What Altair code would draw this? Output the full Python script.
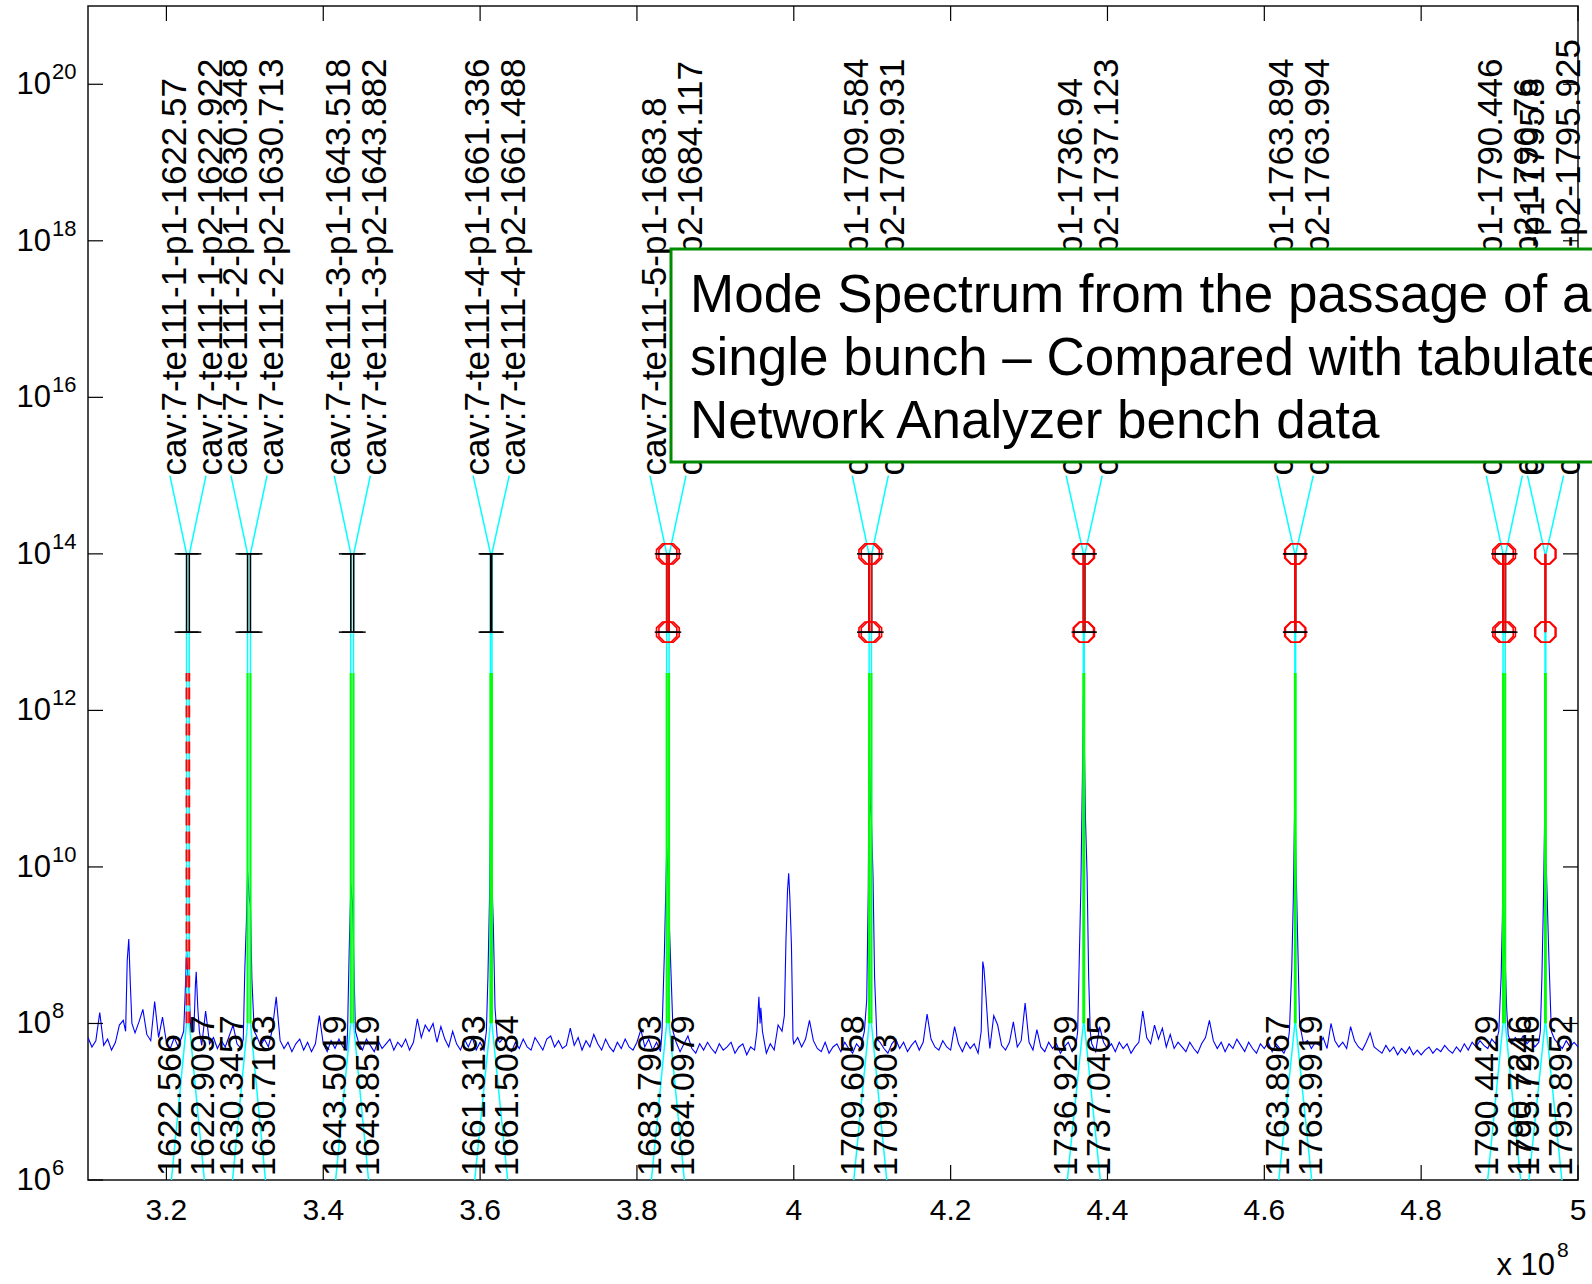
import altair as alt
import pandas as pd

FONT = "Liberation Sans"
W, H = 1490, 1174

# The spectrum is plotted against (f - 1.3 GHz), in Hz.
F_SHIFT_MHZ = 1300.0

# Tabulated network-analyser modes (upper labels)
tab_labels = [
    "cav:7-te111-1-p1-1622.57", "cav:7-te111-1-p2-1622.922",
    "cav:7-te111-2-p1-1630.348", "cav:7-te111-2-p2-1630.713",
    "cav:7-te111-3-p1-1643.518", "cav:7-te111-3-p2-1643.882",
    "cav:7-te111-4-p1-1661.336", "cav:7-te111-4-p2-1661.488",
    "cav:7-te111-5-p1-1683.8", "cav:7-te111-5-p2-1684.117",
    "cav:7-te111-6-p1-1709.584", "cav:7-te111-6-p2-1709.931",
    "cav:7-te111-7-p1-1736.94", "cav:7-te111-7-p2-1737.123",
    "cav:7-te111-8-p1-1763.894", "cav:7-te111-8-p2-1763.994",
    "cav:7-te111-9-p1-1790.446", "cav:7-te111-9-p2-1790.76",
    "cav:7-te111-10-p1-1795.8", "cav:7-te111-10-p2-1795.925",
]
# Mode frequencies found in the beam spectrum (lower labels), MHz
meas_labels = [
    "1622.566", "1622.9097", "1630.3457", "1630.7163", "1643.5019",
    "1643.8519", "1661.3193", "1661.5084", "1683.7903", "1684.0979",
    "1709.6058", "1709.903", "1736.9259", "1737.0405", "1763.8967",
    "1763.9919", "1790.4429", "1790.7246", "1795.7946", "1795.8952",
]
# per p1/p2 pair: peak found in the spectrum, frequency offset flagged, bench bar drawn
pair_found = [False, True, True, True, True, True, True, True, True, True]
pair_flagged = [False, False, False, False, True, True, True, True, True, True]
pair_bench = [True, True, True, True, True, True, True, True, True, False]

# Signal levels of the marker construction
LV_FLOOR, LV_BASE, LV_GREEN = 1e6, 1e8, 3e12
LV_ERR_LO, LV_ERR_HI, LV_LABEL = 1e13, 1e14, 1e15

# Beam spectrum: background floor sampled every 0.5 MHz from 310 MHz (log10 level)
floor_start, floor_step = 3.10e8, 0.005e8
floor_levels = [
    7.82, 7.70, 7.78, 8.14, 7.72, 7.80, 7.66, 7.76, 7.98, 8.04, 7.82, 8.12, 7.88, 8.02, 8.18, 7.86, 7.78, 8.28, 7.82, 8.08,
    7.76, 7.68, 7.82, 7.70, 7.84, 7.66, 7.78, 7.70, 7.80, 7.72, 8.16, 7.74, 7.82, 7.68, 7.78, 7.70, 7.84, 7.98, 7.74, 7.68,
    7.72, 7.80, 7.66, 7.84, 7.72, 7.80, 7.70, 7.92, 8.34, 7.78, 7.68, 7.76, 7.64, 7.74, 7.80, 7.66, 7.76, 7.64, 7.74, 8.10,
    7.74, 7.64, 7.78, 7.68, 7.80, 7.70, 7.66, 7.82, 7.70, 7.76, 7.66, 7.80, 7.72, 7.64, 7.78, 7.68, 7.74, 7.80, 7.66, 7.76,
    7.70, 7.80, 7.66, 7.76, 8.06, 7.82, 7.98, 7.90, 8.00, 7.76, 7.96, 7.80, 7.70, 7.90, 7.74, 7.66, 7.80, 7.70, 7.82, 7.66,
    7.76, 7.66, 7.74, 7.80, 7.66, 7.76, 7.82, 7.70, 7.64, 7.76, 7.68, 7.80, 7.70, 7.66, 7.82, 7.74, 7.66, 7.80, 7.84, 7.70,
    7.78, 7.68, 7.72, 7.94, 7.72, 7.82, 7.66, 7.78, 7.70, 7.86, 7.74, 7.66, 7.80, 7.70, 7.64, 7.76, 7.68, 7.80, 7.70, 7.66,
    7.76, 7.92, 7.70, 7.80, 7.66, 7.76, 7.64, 7.72, 7.86, 7.68, 7.76, 7.64, 7.74, 7.84, 7.68, 7.62, 7.74, 7.66, 7.76, 7.68,
    7.62, 7.74, 7.66, 7.70, 7.76, 7.62, 7.70, 7.74, 7.60, 7.70, 7.66, 7.76, 7.68, 7.62, 7.74, 7.66, 7.98, 7.70, 7.62, 7.70,
    7.74, 7.82, 7.70, 7.80, 8.04, 7.78, 7.68, 7.64, 7.76, 7.62, 7.70, 7.74, 7.64, 7.76, 7.68, 7.62, 7.74, 7.68, 7.76, 7.70,
    7.74, 7.64, 7.76, 7.68, 7.62, 7.74, 7.80, 7.68, 7.76, 7.64, 7.72, 7.78, 7.66, 7.76, 8.12, 7.80, 7.70, 7.66, 7.78, 7.70,
    7.66, 7.96, 7.74, 7.64, 7.76, 7.68, 7.74, 7.62, 7.70, 7.76, 7.68, 8.10, 7.98, 7.72, 7.66, 7.76, 8.02, 7.70, 7.78, 8.26,
    7.76, 7.66, 7.92, 7.70, 7.64, 7.76, 7.68, 7.74, 7.62, 7.70, 7.76, 7.64, 7.74, 7.68, 7.76, 7.66, 7.74, 7.64, 7.96, 7.76,
    7.68, 7.74, 7.64, 7.76, 7.68, 7.74, 7.62, 7.70, 7.76, 8.16, 7.82, 7.74, 7.98, 7.80, 7.94, 7.70, 7.86, 7.68, 7.76, 7.70,
    7.64, 7.76, 7.68, 7.62, 7.74, 7.82, 8.04, 7.78, 7.68, 7.76, 7.64, 7.74, 7.68, 7.80, 7.72, 7.64, 7.76, 7.68, 7.62, 7.74,
    7.68, 7.76, 7.64, 7.74, 7.68, 7.62, 7.74, 7.68, 7.76, 7.64, 7.74, 7.78, 7.68, 7.76, 7.72, 7.82, 7.68, 8.00, 7.78, 7.70,
    7.76, 7.68, 7.96, 7.78, 7.70, 7.66, 7.76, 7.88, 7.70, 7.66, 7.62, 7.72, 7.64, 7.70, 7.60, 7.68, 7.62, 7.70, 7.60, 7.66,
    7.60, 7.66, 7.70, 7.62, 7.68, 7.64, 7.72, 7.66, 7.62, 7.70, 7.64, 7.74, 7.66, 7.76, 7.70, 7.78, 7.72, 7.68, 7.80, 7.74,
    7.78, 7.70, 7.80, 7.74, 7.82, 7.76, 7.84, 7.74, 7.80, 7.70, 7.76, 7.82, 7.72, 7.70, 7.80, 7.74, 7.68, 7.78, 7.70, 7.76, 7.70,
]

# Resonance peaks: (frequency in units of 1e8 Hz, log10 level)
peaks = [
    [(3.148, 7.9), (3.150, 8.8), (3.152, 9.08), (3.154, 8.5), (3.156, 8.0)],
    [(3.222, 7.9), (3.224, 8.4), (3.2257, 8.95), (3.2275, 8.6), (3.2291, 8.4), (3.231, 7.9)],
    [(3.235, 7.9), (3.237, 8.5), (3.238, 8.66), (3.240, 8.2), (3.242, 7.9)],
    [(3.298, 7.8), (3.300, 8.7), (3.302, 9.3), (3.3035, 9.94), (3.3055, 9.62),
     (3.3072, 9.5), (3.309, 8.56), (3.312, 7.9)],
    [(3.431, 7.9), (3.433, 8.9), (3.4352, 9.78), (3.4375, 9.5), (3.4388, 8.88), (3.441, 7.9)],
    [(3.608, 7.9), (3.610, 8.6), (3.612, 9.6), (3.6134, 10.96), (3.6149, 9.9),
     (3.617, 9.2), (3.619, 8.2), (3.622, 7.8)],
    [(3.832, 7.9), (3.835, 8.9), (3.837, 9.8), (3.838, 10.24), (3.8395, 9.9),
     (3.8412, 9.3), (3.843, 8.77), (3.846, 7.9)],
    [(3.953, 7.9), (3.9555, 8.34), (3.957, 8.0), (3.958, 8.2), (3.960, 7.9)],
    [(3.985, 7.9), (3.988, 8.1), (3.990, 9.05), (3.992, 9.7), (3.9935, 9.92),
     (3.995, 9.6), (3.997, 9.0), (3.999, 7.8)],
    [(4.090, 7.9), (4.093, 8.3), (4.095, 9.7), (4.0961, 11.86), (4.0975, 10.8),
     (4.099, 10.6), (4.101, 9.9), (4.103, 8.6), (4.106, 7.8)],
    [(4.239, 7.9), (4.241, 8.79), (4.2425, 8.7), (4.244, 8.5), (4.246, 8.2), (4.248, 7.9)],
    [(4.362, 7.9), (4.364, 8.8), (4.366, 9.7), (4.368, 11.1), (4.3693, 12.19),
     (4.3705, 11.6), (4.372, 10.6), (4.374, 9.9), (4.376, 8.6), (4.378, 7.9)],
    [(4.632, 7.9), (4.635, 8.7), (4.637, 9.6), (4.6387, 10.8), (4.639, 11.28),
     (4.6399, 10.3), (4.642, 9.3), (4.645, 8.0)],
    [(4.899, 7.9), (4.902, 8.6), (4.9035, 9.3), (4.9044, 9.99), (4.906, 9.0),
     (4.9072, 8.8), (4.909, 8.2), (4.911, 7.85)],
    [(4.952, 7.9), (4.954, 8.6), (4.956, 9.6), (4.9579, 10.93), (4.959, 10.2),
     (4.961, 9.5), (4.963, 8.8), (4.966, 7.9)],
]

# Axis ticks
x_ticks = [3.2e8, 3.4e8, 3.6e8, 3.8e8, 4.0e8, 4.2e8, 4.4e8, 4.6e8, 4.8e8, 5.0e8]
x_tick_text = ["3.2", "3.4", "3.6", "3.8", "4", "4.2", "4.4", "4.6", "4.8", "5"]
y_exponents = [6, 8, 10, 12, 14, 16, 18, 20]

annotation_lines = [
    "Mode Spectrum from the passage of a",
    "single bunch \u2013 Compared with tabulated",
    "Network Analyzer bench data",
]

# ---------------------------------------------------------------- tables
spans = [(min(f for f, _ in c), max(f for f, _ in c)) for c in peaks]
trace_rows = []
for i, lv in enumerate(floor_levels):
    f = (floor_start + i * floor_step) / 1e8
    if any(lo - 1e-9 <= f <= hi + 1e-9 for lo, hi in spans):
        continue
    trace_rows.append((f, lv))
for c in peaks:
    trace_rows.extend(c)
trace_rows.sort()
trace = pd.DataFrame({
    "f": [r[0] * 1e8 for r in trace_rows],
    "amp": [10 ** r[1] for r in trace_rows],
})

TOP_SPREAD, BOT_SPREAD = 2.3e6, 2.1e6
rows = []
for i, (tl, ml) in enumerate(zip(tab_labels, meas_labels)):
    pair = i // 2
    side = -1 if i % 2 == 0 else 1
    tab_hz = (float(tl.rsplit("-", 1)[1]) - F_SHIFT_MHZ) * 1e6
    meas_hz = (float(ml) - F_SHIFT_MHZ) * 1e6
    rows.append(dict(pair=pair, side=side, tab_label=tl, meas_label=ml,
                     tab=tab_hz, meas=meas_hz,
                     found=pair_found[pair], flagged=pair_flagged[pair],
                     bench=pair_bench[pair]))
modes = pd.DataFrame(rows)
modes["tab_mid"] = modes.groupby("pair")["tab"].transform("mean")
modes["meas_mid"] = modes.groupby("pair")["meas"].transform("mean")
modes["top_x"] = modes["tab_mid"] + modes["side"] * TOP_SPREAD
modes["bot_x"] = modes["meas_mid"] + modes["side"] * BOT_SPREAD
for name, lv in [("lv_floor", LV_FLOOR), ("lv_base", LV_BASE), ("lv_green", LV_GREEN),
                 ("lv_lo", LV_ERR_LO), ("lv_hi", LV_ERR_HI), ("lv_label", LV_LABEL)]:
    modes[name] = lv

found = modes[modes["found"]]
missing = modes[~modes["found"]]
flagged = modes[modes["flagged"]]
bench = modes[modes["bench"]]
flag_pts = pd.concat([flagged.assign(lv=LV_ERR_LO), flagged.assign(lv=LV_ERR_HI)])
cap_pts = pd.concat([bench.assign(lv=LV_ERR_LO), bench.assign(lv=LV_ERR_HI)])

xt = pd.DataFrame({"v": x_ticks, "t": x_tick_text})
yt = pd.DataFrame({"v": [10.0 ** e for e in y_exponents], "e": [str(e) for e in y_exponents]})
one = pd.DataFrame({"k": [0]})

# ---------------------------------------------------------------- encodings
xs = alt.Scale(domain=[3.1e8, 5.0e8], nice=False, zero=False)
ys = alt.Scale(type="log", domain=[1e6, 1e21], nice=False)


def X(field):
    return alt.X(f"{field}:Q", scale=xs, axis=None)


def Y(field):
    return alt.Y(f"{field}:Q", scale=ys, axis=None)


OCTAGON = ("M -0.383 -0.924 L 0.383 -0.924 L 0.924 -0.383 L 0.924 0.383 "
           "L 0.383 0.924 L -0.383 0.924 L -0.924 0.383 L -0.924 -0.383 Z")
HBAR = "M -1 0 L 1 0"

layers = []

# spectrum trace
layers.append(alt.Chart(trace).mark_line(color="#0000ff", strokeWidth=1.1, clip=True)
              .encode(x=X("f"), y=Y("amp")))

# cyan stems from the floor marker up to the bench bar
layers.append(alt.Chart(modes).mark_rule(color="#00ffff", strokeWidth=1.5)
              .encode(x=X("meas"), y=Y("lv_base"), y2=alt.Y2("lv_hi")))
# found peaks: green; missing peak: red dashed
layers.append(alt.Chart(found).mark_rule(color="#00ff00", strokeWidth=2)
              .encode(x=X("meas"), y=Y("lv_base"), y2=alt.Y2("lv_green")))
layers.append(alt.Chart(missing).mark_rule(color="#ff0000", strokeWidth=2, strokeDash=[12, 6])
              .encode(x=X("meas"), y=Y("lv_base"), y2=alt.Y2("lv_green")))

# label leaders
layers.append(alt.Chart(modes).mark_rule(color="#00ffff", strokeWidth=1.5)
              .encode(x=X("top_x"), x2=alt.X2("tab"), y=Y("lv_label"), y2=alt.Y2("lv_hi")))
layers.append(alt.Chart(modes).mark_rule(color="#00ffff", strokeWidth=1.5)
              .encode(x=X("bot_x"), x2=alt.X2("meas"), y=Y("lv_floor"), y2=alt.Y2("lv_base")))

# bench bars (black) and flagged offsets (red)
layers.append(alt.Chart(bench).mark_rule(color="black", strokeWidth=1.5)
              .encode(x=X("tab"), y=Y("lv_lo"), y2=alt.Y2("lv_hi")))
layers.append(alt.Chart(flagged).mark_rule(color="#ff0000", strokeWidth=1.8)
              .encode(x=X("meas"), y=Y("lv_lo"), y2=alt.Y2("lv_hi")))
layers.append(alt.Chart(flag_pts).mark_point(shape=OCTAGON, size=484, filled=False,
                                             color="#ff0000", strokeWidth=1.6, opacity=1)
              .encode(x=X("meas"), y=Y("lv")))
layers.append(alt.Chart(cap_pts).mark_point(shape=HBAR, size=576, filled=False,
                                            color="black", strokeWidth=1.5, opacity=1)
              .encode(x=X("tab"), y=Y("lv")))

# mode labels
layers.append(alt.Chart(modes).mark_text(angle=270, align="left", baseline="middle",
                                         font=FONT, fontSize=35, color="black", dy=5)
              .encode(x=X("top_x"), y=Y("lv_label"), text="tab_label:N"))
layers.append(alt.Chart(modes).mark_text(angle=270, align="left", baseline="middle",
                                         font=FONT, fontSize=34, color="black", dx=4)
              .encode(x=X("bot_x"), y=Y("lv_floor"), text="meas_label:N"))

# inward axis ticks on all four sides
TL = 15
layers.append(alt.Chart(xt).mark_rule(color="black", strokeWidth=1.2)
              .encode(x=X("v"), y=alt.value(0), y2=alt.value(TL)))
layers.append(alt.Chart(xt).mark_rule(color="black", strokeWidth=1.2)
              .encode(x=X("v"), y=alt.value(H - TL), y2=alt.value(H)))
layers.append(alt.Chart(yt).mark_rule(color="black", strokeWidth=1.2)
              .encode(y=Y("v"), x=alt.value(0), x2=alt.value(TL)))
layers.append(alt.Chart(yt).mark_rule(color="black", strokeWidth=1.2)
              .encode(y=Y("v"), x=alt.value(W - TL), x2=alt.value(W)))

# tick labels
layers.append(alt.Chart(xt).mark_text(align="center", baseline="alphabetic",
                                      font=FONT, fontSize=30, color="black")
              .encode(x=X("v"), y=alt.value(H + 40), text="t:N"))
layers.append(alt.Chart(yt).mark_text(align="right", baseline="alphabetic",
                                      font=FONT, fontSize=31, color="black", dy=10)
              .encode(y=Y("v"), x=alt.value(-37), text=alt.value("10")))
layers.append(alt.Chart(yt).mark_text(align="left", baseline="alphabetic",
                                      font=FONT, fontSize=22, color="black", dy=-5)
              .encode(y=Y("v"), x=alt.value(-36), text="e:N"))
layers.append(alt.Chart(one).mark_text(align="right", baseline="alphabetic",
                                       font=FONT, fontSize=31, color="black")
              .encode(x=alt.value(1467), y=alt.value(H + 95), text=alt.value("x 10")))
layers.append(alt.Chart(one).mark_text(align="left", baseline="alphabetic",
                                       font=FONT, fontSize=21, color="black")
              .encode(x=alt.value(1469), y=alt.value(H + 77), text=alt.value("8")))

# annotation box
layers.append(alt.Chart(one).mark_rect(fill="white", stroke="#008c00", strokeWidth=3)
              .encode(x=alt.value(583), x2=alt.value(1700), y=alt.value(243), y2=alt.value(456)))
for k, line in enumerate(annotation_lines):
    layers.append(alt.Chart(one).mark_text(align="left", baseline="alphabetic",
                                           font=FONT, fontSize=53, color="black")
                  .encode(x=alt.value(602), y=alt.value(306 + 63 * k), text=alt.value(line)))

chart = (
    alt.layer(*layers)
    .properties(width=W, height=H, autosize="none", background="white",
                padding={"left": 88, "top": 6, "right": 14, "bottom": 104})
    .configure_view(stroke="#111111", strokeWidth=1.5)
)

chart.save("out.html", embed_options={"renderer": "svg", "actions": False})
